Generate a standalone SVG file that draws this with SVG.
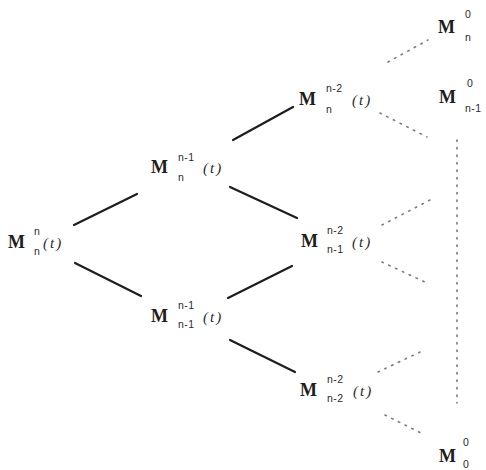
<svg xmlns="http://www.w3.org/2000/svg" width="486" height="470" viewBox="0 0 486 470">
<style>
.m{font-family:"Liberation Serif",serif;font-weight:bold;font-size:18px;fill:#1e1e1e}
.s{font-family:"Liberation Sans",sans-serif;font-size:10.5px;fill:#2a2a2a;letter-spacing:0.5px}
.t{font-family:"Liberation Serif",serif;font-style:italic;font-size:15px;fill:#2a2a2a;letter-spacing:2px}
.solid{stroke:#1e1e1e;stroke-width:2.2;fill:none;stroke-linecap:round}
.dot{stroke:#7a7a7a;stroke-width:1.6;fill:none;stroke-dasharray:1.5 6;stroke-linecap:round}
</style>
<rect width="486" height="470" fill="#fff"/>
<g id="connectors">
<line class="solid" x1="74" y1="225" x2="137" y2="194"/>
<line class="solid" x1="75" y1="263" x2="141" y2="296"/>
<line class="solid" x1="233" y1="140" x2="293" y2="107"/>
<line class="solid" x1="230" y1="187" x2="297" y2="218"/>
<line class="solid" x1="228" y1="298" x2="292" y2="266"/>
<line class="solid" x1="230" y1="340" x2="295" y2="372"/>
<line class="dot" x1="388" y1="62" x2="428" y2="40"/>
<line class="dot" x1="380" y1="113" x2="427" y2="137"/>
<line class="dot" x1="382" y1="225" x2="430" y2="200"/>
<line class="dot" x1="382" y1="262" x2="427" y2="283"/>
<line class="dot" x1="378" y1="372" x2="420" y2="352"/>
<line class="dot" x1="385" y1="415" x2="425" y2="435"/>
<line class="dot" x1="457" y1="140" x2="457" y2="403"/>
</g>
<g id="n_nn">
<text class="m" x="8" y="248">M</text><text class="s" x="34" y="235">n</text><text class="s" x="34" y="255">n</text><text class="t" x="43" y="248">(t)</text>
</g>
<g id="n_n1_n">
<text class="m" x="151" y="173">M</text><text class="s" x="178" y="161">n-1</text><text class="s" x="178" y="181">n</text><text class="t" x="203" y="173">(t)</text>
</g>
<g id="n_n1_n1">
<text class="m" x="151" y="322">M</text><text class="s" x="178" y="309">n-1</text><text class="s" x="178" y="328">n-1</text><text class="t" x="203" y="322">(t)</text>
</g>
<g id="n_n2_n">
<text class="m" x="299" y="105">M</text><text class="s" x="326" y="92">n-2</text><text class="s" x="326" y="113">n</text><text class="t" x="352" y="105">(t)</text>
</g>
<g id="n_n2_n1">
<text class="m" x="301" y="247">M</text><text class="s" x="327" y="234">n-2</text><text class="s" x="327" y="253">n-1</text><text class="t" x="352" y="247">(t)</text>
</g>
<g id="n_n2_n2">
<text class="m" x="300" y="396">M</text><text class="s" x="327" y="383">n-2</text><text class="s" x="327" y="402">n-2</text><text class="t" x="353" y="396">(t)</text>
</g>
<g id="n_0_n">
<text class="m" x="438" y="33">M</text><text class="s" x="465" y="18">0</text><text class="s" x="465" y="41">n</text>
</g>
<g id="n_0_n1">
<text class="m" x="439" y="103">M</text><text class="s" x="467" y="87">0</text><text class="s" x="465" y="112">n-1</text>
</g>
<g id="n_0_0">
<text class="m" x="439" y="462">M</text><text class="s" x="463" y="446">0</text><text class="s" x="463" y="468">0</text>
</g>
</svg>
